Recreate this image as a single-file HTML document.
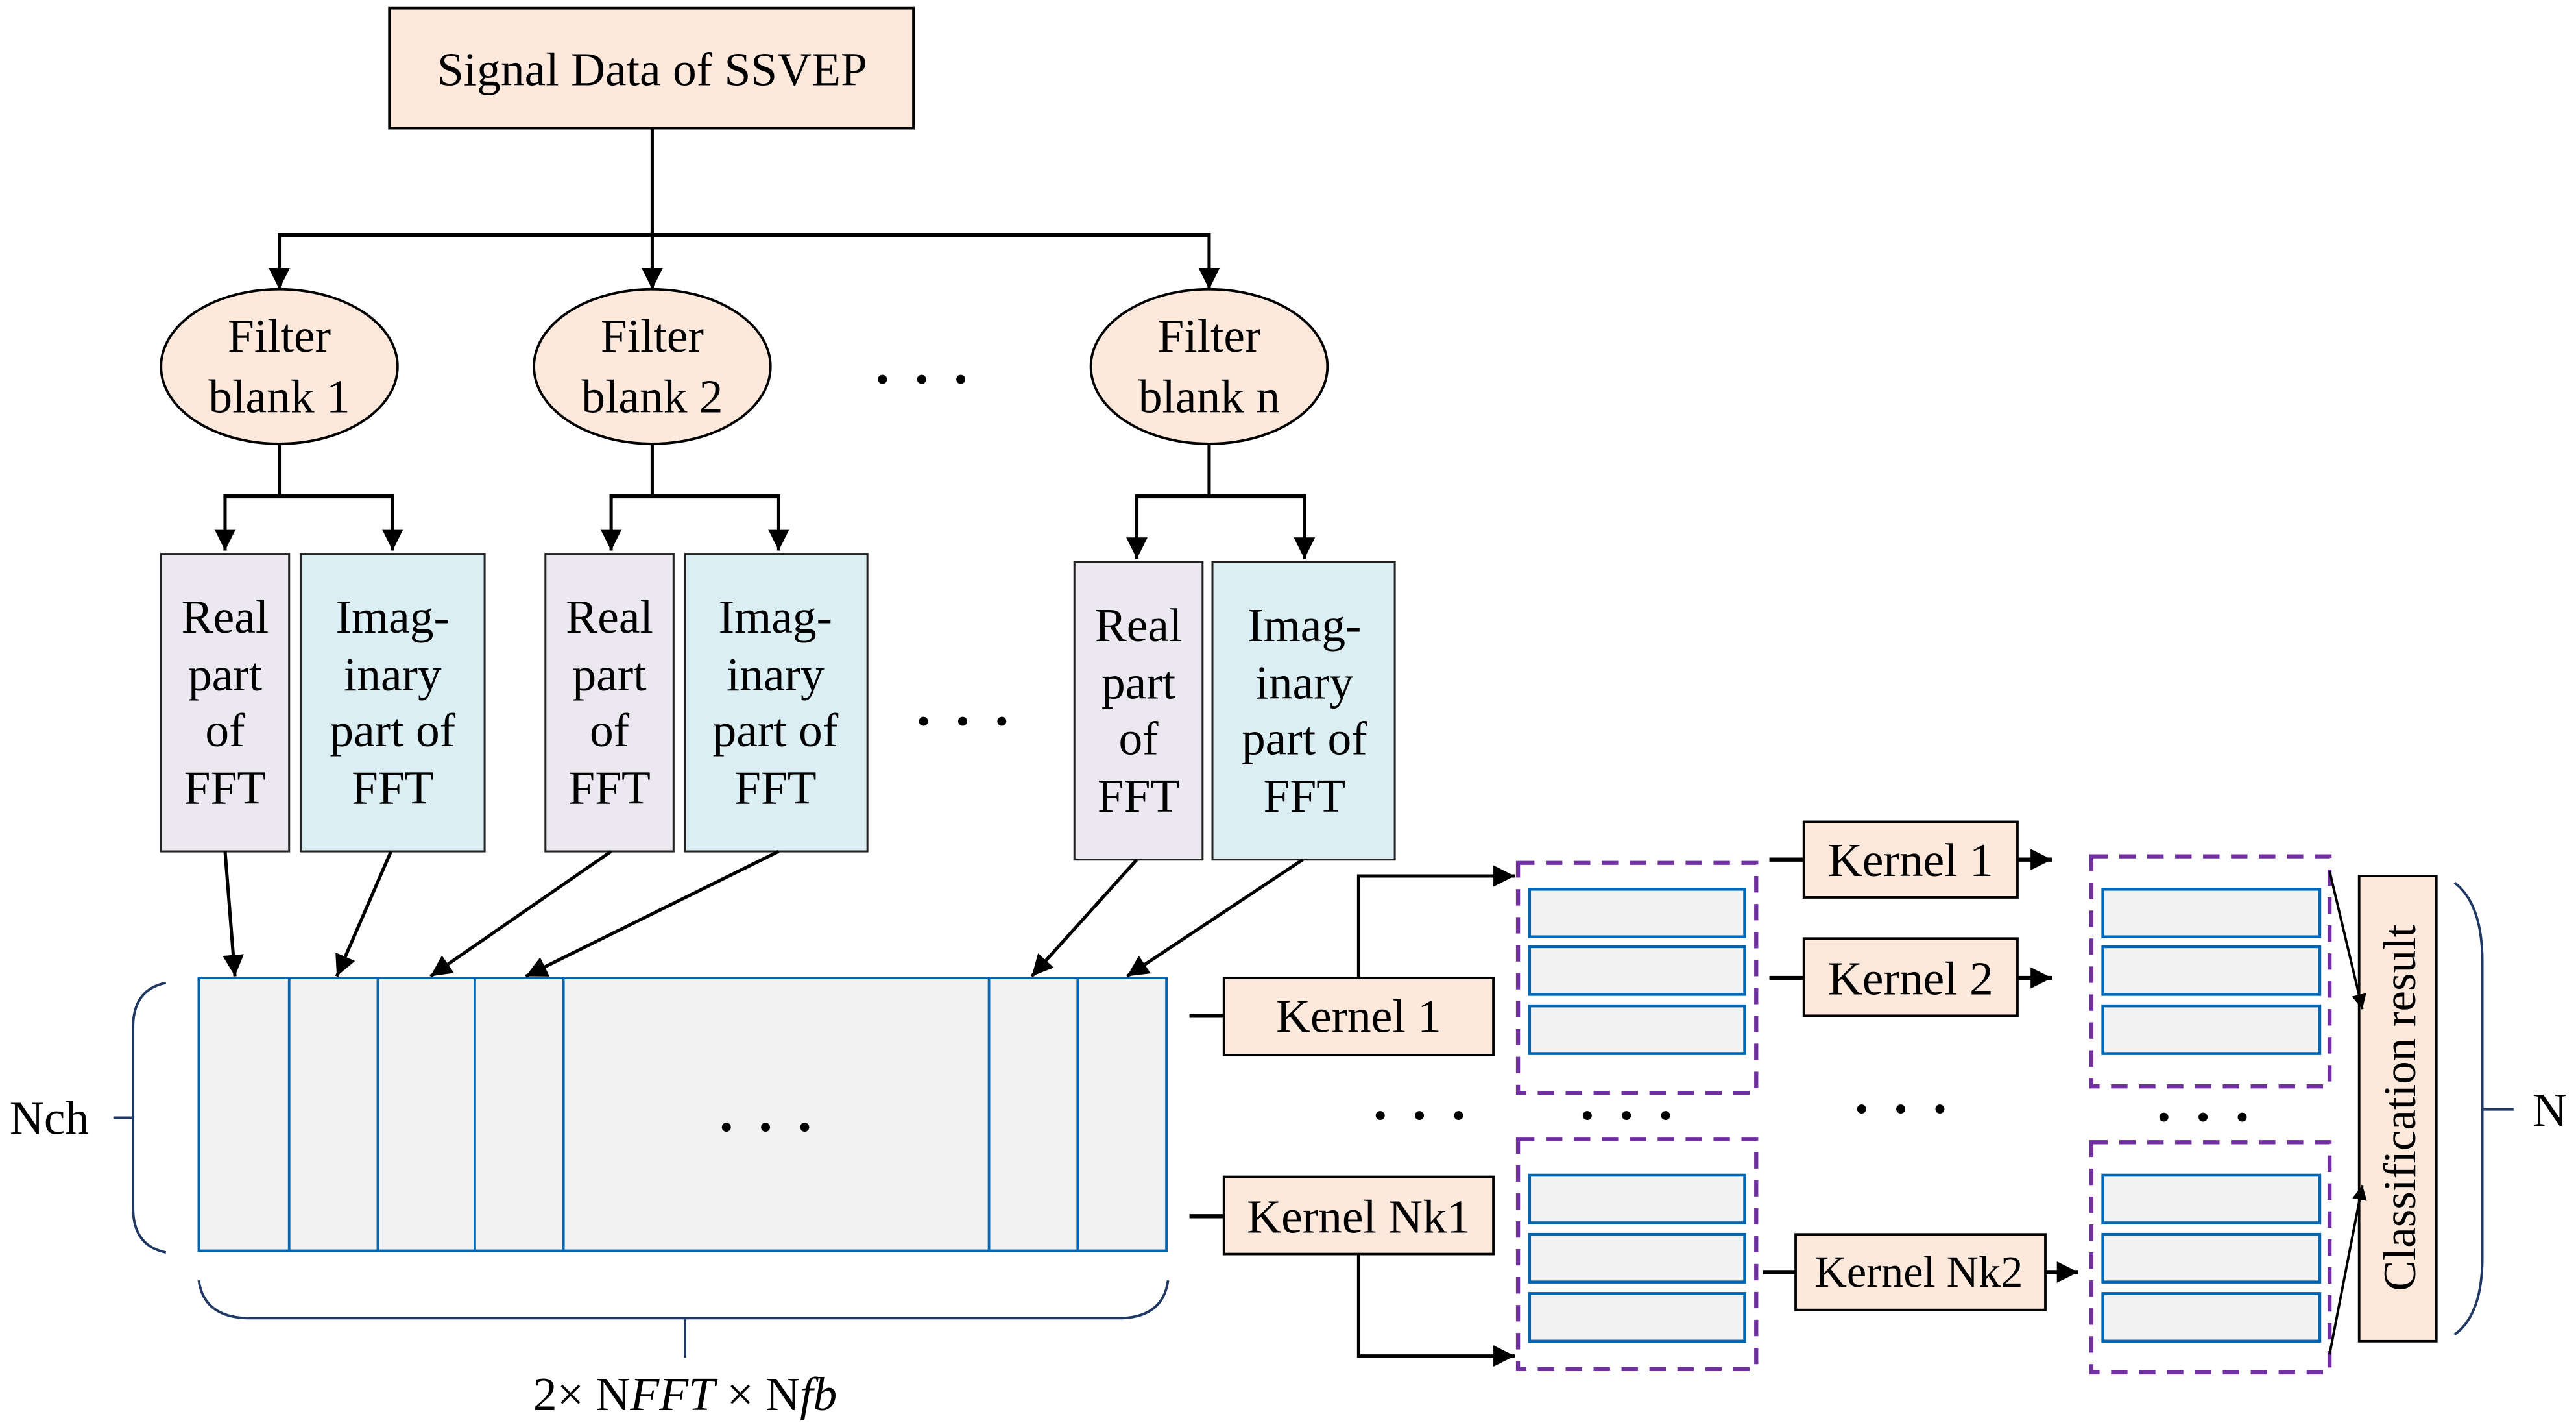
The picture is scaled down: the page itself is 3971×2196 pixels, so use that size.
<!DOCTYPE html>
<html><head><meta charset="utf-8"><style>
html,body{margin:0;padding:0;background:#fff;}
svg{display:block;}
text{font-family:"Liberation Serif",serif;fill:#000;}
</style></head><body>
<svg width="3971" height="2196" viewBox="0 0 1568 867" preserveAspectRatio="none" xmlns="http://www.w3.org/2000/svg">
<defs>
<marker id="a" viewBox="0 0 10 10" refX="10" refY="5" markerWidth="9" markerHeight="9" orient="auto" markerUnits="userSpaceOnUse"><path d="M0,0 L10,5 L0,10 z" fill="#000"/></marker>
<marker id="b" viewBox="0 0 10 10" refX="10" refY="5" markerWidth="13" markerHeight="13" orient="auto" markerUnits="userSpaceOnUse"><path d="M0,0 L10,5 L0,10 z" fill="#000"/></marker>
</defs>
<g stroke="#000" stroke-width="2" fill="none">
<rect x="237" y="5" width="319" height="73" fill="#fce9dc" stroke-width="1.5"/>
<line x1="397" y1="78" x2="397" y2="143"/>
<line x1="169" y1="143" x2="737" y2="143" stroke-width="2.5"/>
<line x1="170" y1="143" x2="170" y2="176" marker-end="url(#b)"/>
<line x1="397" y1="143" x2="397" y2="176" marker-end="url(#b)"/>
<line x1="736" y1="143" x2="736" y2="176" marker-end="url(#b)"/>
<ellipse cx="170" cy="223" rx="72" ry="47" fill="#fce9dc" stroke-width="1.5"/>
<ellipse cx="397" cy="223" rx="72" ry="47" fill="#fce9dc" stroke-width="1.5"/>
<ellipse cx="736" cy="223" rx="72" ry="47" fill="#fce9dc" stroke-width="1.5"/>
<line x1="170" y1="270" x2="170" y2="302"/><line x1="136" y1="302" x2="240" y2="302" stroke-width="2.5"/>
<line x1="137" y1="302" x2="137" y2="335" marker-end="url(#b)"/><line x1="239" y1="302" x2="239" y2="335" marker-end="url(#b)"/>
<line x1="397" y1="270" x2="397" y2="302"/><line x1="371" y1="302" x2="475" y2="302" stroke-width="2.5"/>
<line x1="372" y1="302" x2="372" y2="335" marker-end="url(#b)"/><line x1="474" y1="302" x2="474" y2="335" marker-end="url(#b)"/>
<line x1="736" y1="270" x2="736" y2="302"/><line x1="691" y1="302" x2="795" y2="302" stroke-width="2.5"/>
<line x1="692" y1="302" x2="692" y2="340" marker-end="url(#b)"/><line x1="794" y1="302" x2="794" y2="340" marker-end="url(#b)"/>
<g stroke-width="1.2" stroke="#222">
<rect x="98" y="337" width="78" height="181" fill="#ebe8f0"/>
<rect x="183" y="337" width="112" height="181" fill="#daeef3"/>
<rect x="332" y="337" width="78" height="181" fill="#ebe8f0"/>
<rect x="417" y="337" width="111" height="181" fill="#daeef3"/>
<rect x="654" y="342" width="78" height="181" fill="#ebe8f0"/>
<rect x="738" y="342" width="111" height="181" fill="#daeef3"/>
</g>
<rect x="121" y="595" width="589" height="166" fill="#f2f2f2" stroke="#0066b3" stroke-width="1.5"/>
<g stroke="#0066b3" stroke-width="1.5">
<line x1="176" y1="595" x2="176" y2="761"/><line x1="230" y1="595" x2="230" y2="761"/>
<line x1="289" y1="595" x2="289" y2="761"/><line x1="343" y1="595" x2="343" y2="761"/>
<line x1="602" y1="595" x2="602" y2="761"/><line x1="656" y1="595" x2="656" y2="761"/>
</g>
<line x1="137" y1="518" x2="143" y2="594" marker-end="url(#b)"/>
<line x1="238" y1="518" x2="205" y2="594" marker-end="url(#b)"/>
<line x1="372" y1="518" x2="262" y2="594" marker-end="url(#b)"/>
<line x1="474" y1="518" x2="320" y2="594" marker-end="url(#b)"/>
<line x1="692" y1="523" x2="628" y2="594" marker-end="url(#b)"/>
<line x1="793" y1="523" x2="686" y2="594" marker-end="url(#b)"/>
<g stroke="#1f3864" stroke-width="1.5">
<path d="M101,598 Q81,602 81,625 L81,735 Q81,758 101,762"/><line x1="69" y1="680" x2="81" y2="680"/>
<path d="M121,779 Q124,801 150,802 L683,802 Q708,801 711,779"/><line x1="417" y1="802" x2="417" y2="826"/>
<path d="M1494,537 Q1511,550 1511,585 L1511,765 Q1511,800 1494,812"/><line x1="1511" y1="675" x2="1530" y2="675"/>
</g>
<rect x="745" y="595" width="164" height="47" fill="#fce9dc" stroke-width="1.5"/>
<rect x="745" y="716" width="164" height="47" fill="#fce9dc" stroke-width="1.5"/>
<line x1="724" y1="618" x2="745" y2="618" stroke-width="2.5"/>
<line x1="724" y1="740" x2="745" y2="740" stroke-width="2.5"/>
<polyline points="827,595 827,533 922,533" marker-end="url(#b)"/>
<polyline points="827,763 827,825 922,825" marker-end="url(#b)"/>
<g stroke="#7030a0" stroke-width="2.5" stroke-dasharray="10,7">
<rect x="924" y="525" width="145" height="140"/>
<rect x="924" y="693" width="145" height="140"/>
<rect x="1273" y="521" width="145" height="140"/>
<rect x="1273" y="695" width="145" height="140"/>
</g>
<g fill="#f2f2f2" stroke="#0066b3" stroke-width="1.8">
<rect x="931" y="541" width="131" height="29"/><rect x="931" y="576" width="131" height="29"/><rect x="931" y="612" width="131" height="29"/>
<rect x="931" y="715" width="131" height="29"/><rect x="931" y="751" width="131" height="29"/><rect x="931" y="787" width="131" height="29"/>
<rect x="1280" y="541" width="132" height="29"/><rect x="1280" y="576" width="132" height="29"/><rect x="1280" y="612" width="132" height="29"/>
<rect x="1280" y="715" width="132" height="29"/><rect x="1280" y="751" width="132" height="29"/><rect x="1280" y="787" width="132" height="29"/>
</g>
<rect x="1098" y="500" width="130" height="46" fill="#fce9dc" stroke-width="1.5"/>
<rect x="1098" y="571" width="130" height="47" fill="#fce9dc" stroke-width="1.5"/>
<rect x="1093" y="751" width="152" height="46" fill="#fce9dc" stroke-width="1.5"/>
<line x1="1077" y1="523" x2="1098" y2="523" stroke-width="2.5"/>
<line x1="1077" y1="595" x2="1098" y2="595" stroke-width="2.5"/>
<line x1="1073" y1="774" x2="1093" y2="774" stroke-width="2.5"/>
<line x1="1228" y1="523" x2="1249" y2="523" stroke-width="2.5" marker-end="url(#b)"/>
<line x1="1228" y1="595" x2="1249" y2="595" stroke-width="2.5" marker-end="url(#b)"/>
<line x1="1245" y1="774" x2="1265" y2="774" stroke-width="2.5" marker-end="url(#b)"/>
<rect x="1436" y="533" width="47" height="283" fill="#fce9dc" stroke-width="1.5"/>
<line x1="1418" y1="530" x2="1438" y2="614" stroke-width="1.5" marker-end="url(#a)"/>
<line x1="1418" y1="824" x2="1438" y2="721" stroke-width="1.5" marker-end="url(#a)"/>
</g>
<g font-size="29" text-anchor="middle">
<text x="397" y="52">Signal Data of SSVEP</text>
<text x="170" y="214">Filter</text><text x="170" y="251">blank 1</text>
<text x="397" y="214">Filter</text><text x="397" y="251">blank 2</text>
<text x="736" y="214">Filter</text><text x="736" y="251">blank n</text>
<text x="137" y="385">Real</text><text x="137" y="420">part</text><text x="137" y="454">of</text><text x="137" y="489">FFT</text>
<text x="239" y="385">Imag-</text><text x="239" y="420">inary</text><text x="239" y="454">part of</text><text x="239" y="489">FFT</text>
<text x="371" y="385">Real</text><text x="371" y="420">part</text><text x="371" y="454">of</text><text x="371" y="489">FFT</text>
<text x="472" y="385">Imag-</text><text x="472" y="420">inary</text><text x="472" y="454">part of</text><text x="472" y="489">FFT</text>
<text x="693" y="390">Real</text><text x="693" y="425">part</text><text x="693" y="459">of</text><text x="693" y="494">FFT</text>
<text x="794" y="390">Imag-</text><text x="794" y="425">inary</text><text x="794" y="459">part of</text><text x="794" y="494">FFT</text>
<text x="827" y="628">Kernel 1</text>
<text x="827" y="750">Kernel Nk1</text>
<text x="1163" y="533">Kernel 1</text>
<text x="1163" y="605">Kernel 2</text>
<text x="1168" y="783" font-size="27">Kernel Nk2</text>
<text x="30" y="690">Nch</text>
<text x="1552" y="685">N</text>
<text x="417" y="858">2× N<tspan font-style="italic">FFT</tspan> × N<tspan font-style="italic">fb</tspan></text>
<text transform="translate(1470,674) rotate(-90)" font-size="28">Classification result</text>
</g>
<g font-size="34" font-weight="bold" text-anchor="middle" letter-spacing="2">
<text x="562" y="242">· · ·</text>
<text x="587" y="450">· · ·</text>
<text x="467" y="697">· · ·</text>
<text x="865" y="690">· · ·</text>
<text x="991" y="690">· · ·</text>
<text x="1158" y="686">· · ·</text>
<text x="1342" y="691">· · ·</text>
</g>
</svg>
</body></html>
